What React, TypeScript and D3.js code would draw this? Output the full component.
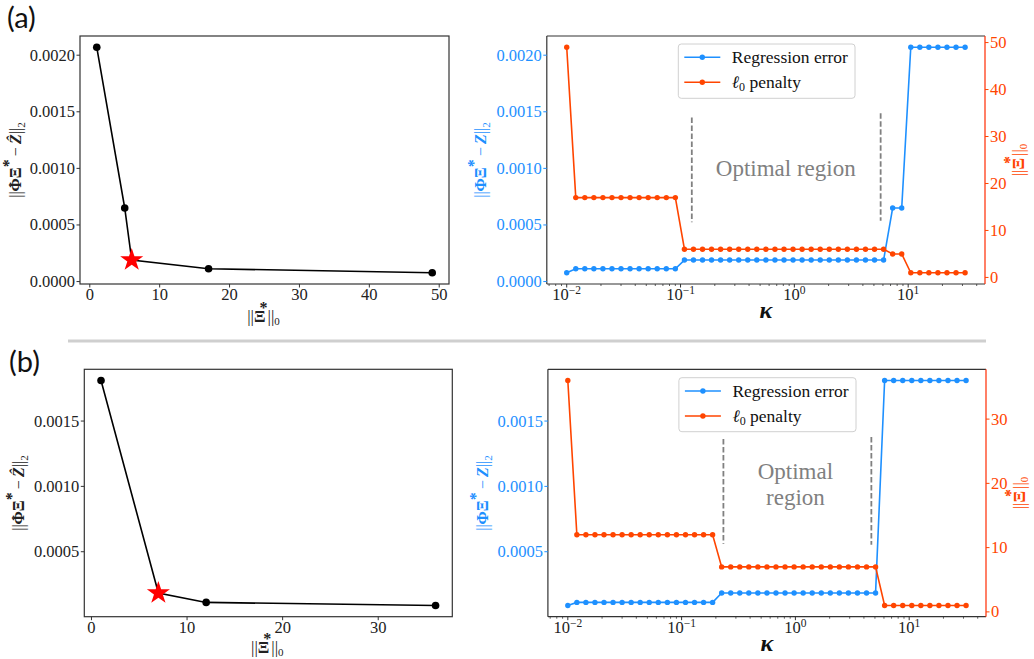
import React from "react";
import * as d3 from "d3";

// ---------------- DATA ----------------
const KAPPA = [0.01, 0.01201, 0.01442, 0.01732, 0.0208, 0.02498, 0.02999, 0.03602, 0.04325, 0.05194, 0.06237, 0.07499, 0.09005, 0.1082, 0.1299, 0.156, 0.1873, 0.2249, 0.2701, 0.3244, 0.3895, 0.4678, 0.5623, 0.6753, 0.8111, 0.9742, 1.17, 1.405, 1.688, 2.027, 2.434, 2.923, 3.511, 4.217, 5.064, 6.082, 7.304, 8.775, 10.54, 12.66, 15.2, 18.25, 21.92, 26.33, 31.62];

// panel (a)
const ERR_A = [0.000078,
  0.000113, 0.000113, 0.000113, 0.000113, 0.000113, 0.000113, 0.000113, 0.000113, 0.000113, 0.000113, 0.000113, 0.000113,
  0.00019, 0.00019, 0.00019, 0.00019, 0.00019, 0.00019, 0.00019, 0.00019, 0.00019, 0.00019, 0.00019, 0.00019,
  0.00019, 0.00019, 0.00019, 0.00019, 0.00019, 0.00019, 0.00019, 0.00019, 0.00019, 0.00019, 0.00019,
  0.00065, 0.00065,
  0.00207, 0.00207, 0.00207, 0.00207, 0.00207, 0.00207, 0.00207];
const L0_A = [49,
  17, 17, 17, 17, 17, 17, 17, 17, 17, 17, 17, 17,
  6, 6, 6, 6, 6, 6, 6, 6, 6, 6, 6, 6, 6, 6, 6, 6, 6, 6, 6, 6, 6, 6, 6,
  5, 5,
  1, 1, 1, 1, 1, 1, 1];
const TERMS_A = [1, 5, 6, 17, 49];
const PARETO_ERR_A = [0.00207, 0.00065, 0.00019, 0.000113, 0.000078];
const OPT_TERMS_A = [6];
const OPT_ERR_A = [0.00019];
const DASH_KAPPA_A = [0.1256, 5.73];
const DASH_TOP_A = [0.00145, 0.001486];
const DASH_BOTTOM_A = [0.000524, 0.000538];

// panel (b)
const ERR_B = [0.0000888,
  0.000112, 0.000112, 0.000112, 0.000112, 0.000112, 0.000112, 0.000112, 0.000112,
  0.000112, 0.000112, 0.000112, 0.000112, 0.000112, 0.000112, 0.000112, 0.000112,
  0.000184, 0.000184, 0.000184, 0.000184, 0.000184, 0.000184, 0.000184, 0.000184, 0.000184,
  0.000184, 0.000184, 0.000184, 0.000184, 0.000184, 0.000184, 0.000184, 0.000184, 0.000184,
  0.00181, 0.00181, 0.00181, 0.00181, 0.00181, 0.00181, 0.00181, 0.00181, 0.00181, 0.00181];
const L0_B = [36,
  12, 12, 12, 12, 12, 12, 12, 12, 12, 12, 12, 12, 12, 12, 12, 12,
  7, 7, 7, 7, 7, 7, 7, 7, 7, 7, 7, 7, 7, 7, 7, 7, 7, 7,
  1, 1, 1, 1, 1, 1, 1, 1, 1, 1];
const TERMS_B = [1, 7, 12, 36];
const PARETO_ERR_B = [0.00181, 0.000184, 0.000112, 0.0000888];
const OPT_TERMS_B = [7];
const OPT_ERR_B = [0.000184];
const DASH_KAPPA_B = [0.233, 4.65];
const DASH_TOP_B = [0.001363, 0.001378];
const DASH_BOTTOM_B = [0.000561, 0.000553];

// ticks
const X_TICKS_A = [0, 10, 20, 30, 40, 50];
const X_TICKS_B = [0, 10, 20, 30];
const Y_TICKS_A = [0, 0.0005, 0.001, 0.0015, 0.002];
const Y_TICKS_B = [0.0005, 0.001, 0.0015];
const R_TICKS_A = [0, 10, 20, 30, 40, 50];
const R_TICKS_B = [0, 10, 20, 30];
const LOG_TICKS = [0.01, 0.1, 1, 10];
const LOG_TICK_EXP = ["\u22122", "\u22121", "0", "1"];
const LEGEND_LABELS = ["Regression error", "penalty"];
const OPT_TEXT_A = ["Optimal region"];
const OPT_TEXT_B = ["Optimal", "region"];

// ---------------- STYLE ----------------
const FONT = "Liberation Serif";
const BLUE = "#1E90FF";
const ORANGE = "#FF4500";
const RED_SPINE = "#FF2A00";
const FRAME = "#333333";
const GRAY = "#808080";

function pad(lo: number, hi: number): [number, number] {
  const d = hi - lo;
  return [lo - 0.05 * d, hi + 0.05 * d];
}

function YLabelLeft({ x, y, color, hats }: { x: number; y: number; color: string; hats: boolean }) {
  return (
    <text transform={`translate(${x},${y}) rotate(-90)`} textAnchor="middle" fontFamily={FONT} fontSize={16} fill={color}>
      <tspan>||</tspan>
      <tspan fontWeight="bold">{"\u03A6"}</tspan>
      {hats ? <tspan fontSize={14} dx={-9} dy={-2}>{"\u02C6"}</tspan> : null}
      <tspan fontWeight="bold" dx={hats ? 4.3 : 0} dy={hats ? 2 : 0}>{"\u039E"}</tspan>
      <tspan fontWeight="bold" fontSize={16} dy={-7}>*</tspan>
      <tspan dy={7}>{"\u2009\u2212\u2009"}</tspan>
      <tspan fontWeight="bold" fontStyle="italic">{hats ? "Z\u0302" : "Z"}</tspan>
      <tspan>||</tspan>
      <tspan fontSize={11} dy={4}>2</tspan>
    </text>
  );
}

function XiLabel({ x, y, color, rotate }: { x: number; y: number; color: string; rotate?: boolean }) {
  return (
    <text transform={`translate(${x},${y})${rotate ? " rotate(-90)" : ""}`} textAnchor="middle" fontFamily={FONT} fontSize={17} fill={color}>
      <tspan>||</tspan>
      <tspan fontWeight="bold">{"\u039E"}</tspan>
      <tspan fontWeight="bold" fontSize={16} dy={-9} dx={-6}>*</tspan>
      <tspan dy={9}>||</tspan>
      <tspan fontSize={11} dy={3}>0</tspan>
    </text>
  );
}

function ParetoPanel({ box, terms, errs, optT, optE, xTicks, yTicks, yLabelX, xLabelY }: any) {
  const xs = d3.scaleLinear().domain(pad(d3.min(terms) as number, d3.max(terms) as number)).range([box.x0, box.x1]);
  const ys = d3.scaleLinear().domain(pad(d3.min(errs) as number, d3.max(errs) as number)).range([box.y1, box.y0]);
  const line = d3.line<number>().x((d) => xs(d)).y((_d, i) => ys(errs[i]));
  const star = d3.symbol().type(d3.symbolStar).size(165)();
  const fmt = d3.format(".4f");
  return (
    <g>
      <path d={line(terms) || ""} fill="none" stroke="#000" strokeWidth={1.6} />
      {terms.map((t: number, i: number) => (
        <circle key={i} cx={xs(t)} cy={ys(errs[i])} r={3.8} fill="#000" />
      ))}
      {optT.map((t: number, i: number) => (
        <path key={i} d={star || ""} transform={`translate(${xs(t)},${ys(optE[i])})`} fill="#FF0000" />
      ))}
      <rect x={box.x0} y={box.y0} width={box.x1 - box.x0} height={box.y1 - box.y0} fill="none" stroke={FRAME} strokeWidth={1.2} />
      {xTicks.map((t: number) => (
        <g key={t}>
          <line x1={xs(t)} x2={xs(t)} y1={box.y1} y2={box.y1 + 3.5} stroke={FRAME} strokeWidth={1} />
          <text x={xs(t)} y={box.y1 + 16} textAnchor="middle" fontFamily={FONT} fontSize={16.5} fill="#222">{t}</text>
        </g>
      ))}
      {yTicks.map((t: number) => (
        <g key={t}>
          <line x1={box.x0 - 3.5} x2={box.x0} y1={ys(t)} y2={ys(t)} stroke={FRAME} strokeWidth={1} />
          <text x={box.x0 - 5} y={ys(t) + 5.5} textAnchor="end" fontFamily={FONT} fontSize={16.5} fill="#222">{fmt(t)}</text>
        </g>
      ))}
      <YLabelLeft x={yLabelX} y={(box.y0 + box.y1) / 2} color="#222" hats={true} />
      <XiLabel x={(box.x0 + box.x1) / 2 - 1} y={xLabelY} color="#222" />
    </g>
  );
}

function KappaPanel({ box, errs, l0s, yTicks, rTicks, dashK, dashTop, dashBot, optText, optK, optE, optDy, legendBox, yLabelX, rLabelX, xLabelY }: any) {
  const lmin = Math.log10(d3.min(KAPPA) as number);
  const lmax = Math.log10(d3.max(KAPPA) as number);
  const lr = lmax - lmin;
  const xs = d3.scaleLog().domain([Math.pow(10, lmin - 0.05 * lr), Math.pow(10, lmax + 0.05 * lr)]).range([box.x0, box.x1]);
  const yl = d3.scaleLinear().domain(pad(d3.min(errs) as number, d3.max(errs) as number)).range([box.y1, box.y0]);
  const yr = d3.scaleLinear().domain(pad(d3.min(l0s) as number, d3.max(l0s) as number)).range([box.y1, box.y0]);
  const lineL = d3.line<number>().x((d) => xs(d)).y((_d, i) => yl(errs[i]));
  const lineR = d3.line<number>().x((d) => xs(d)).y((_d, i) => yr(l0s[i]));
  const dom = xs.domain();
  const minor: number[] = [];
  for (let k = -3; k <= 2; k++) for (let m = 2; m <= 9; m++) {
    const v = m * Math.pow(10, k);
    if (v >= dom[0] && v <= dom[1]) minor.push(v);
  }
  const fmt = d3.format(".4f");
  const lb = legendBox;
  return (
    <g>
      <path d={lineL(KAPPA) || ""} fill="none" stroke={BLUE} strokeWidth={1.6} />
      {KAPPA.map((k, i) => <circle key={"b" + i} cx={xs(k)} cy={yl(errs[i])} r={2.7} fill={BLUE} />)}
      <path d={lineR(KAPPA) || ""} fill="none" stroke={ORANGE} strokeWidth={1.6} />
      {KAPPA.map((k, i) => <circle key={"o" + i} cx={xs(k)} cy={yr(l0s[i])} r={2.7} fill={ORANGE} />)}
      {dashK.map((k: number, i: number) => (
        <line key={"d" + i} x1={xs(k)} x2={xs(k)} y1={yl(dashTop[i])} y2={yl(dashBot[i])} stroke={GRAY} strokeWidth={1.8} strokeDasharray="5.5,2.5" />
      ))}
      {optText.map((s: string, i: number) => (
        <text key={"t" + i} x={xs(optK)} y={yl(optE) + i * optDy} textAnchor="middle" fontFamily={FONT} fontSize={23} fill={GRAY}>{s}</text>
      ))}
      {/* frame */}
      <line x1={box.x0} x2={box.x1} y1={box.y0} y2={box.y0} stroke={FRAME} strokeWidth={1.2} />
      <line x1={box.x0} x2={box.x1} y1={box.y1} y2={box.y1} stroke={FRAME} strokeWidth={1.2} />
      <line x1={box.x0} x2={box.x0} y1={box.y0} y2={box.y1} stroke={FRAME} strokeWidth={1.2} />
      <line x1={box.x1} x2={box.x1} y1={box.y0} y2={box.y1} stroke={RED_SPINE} strokeWidth={1.2} />
      {/* x ticks */}
      {minor.map((v, i) => (
        <line key={"m" + i} x1={xs(v)} x2={xs(v)} y1={box.y1} y2={box.y1 + 2} stroke={FRAME} strokeWidth={0.8} />
      ))}
      {LOG_TICKS.map((v, i) => (
        <g key={"x" + i}>
          <line x1={xs(v)} x2={xs(v)} y1={box.y1} y2={box.y1 + 3.5} stroke={FRAME} strokeWidth={1} />
          <text x={xs(v)} y={box.y1 + 16} textAnchor="middle" fontFamily={FONT} fontSize={16.5} fill="#222">
            <tspan>10</tspan>
            <tspan fontSize={11.5} dy={-6}>{LOG_TICK_EXP[i]}</tspan>
          </text>
        </g>
      ))}
      {yTicks.map((t: number) => (
        <g key={"yl" + t}>
          <line x1={box.x0 - 3.5} x2={box.x0} y1={yl(t)} y2={yl(t)} stroke={BLUE} strokeWidth={1} />
          <text x={box.x0 - 5} y={yl(t) + 5.5} textAnchor="end" fontFamily={FONT} fontSize={16.5} fill={BLUE}>{fmt(t)}</text>
        </g>
      ))}
      {rTicks.map((t: number) => (
        <g key={"yr" + t}>
          <line x1={box.x1} x2={box.x1 + 3.5} y1={yr(t)} y2={yr(t)} stroke={ORANGE} strokeWidth={1} />
          <text x={box.x1 + 5} y={yr(t) + 5.5} textAnchor="start" fontFamily={FONT} fontSize={16.5} fill={ORANGE}>{t}</text>
        </g>
      ))}
      <YLabelLeft x={yLabelX} y={(box.y0 + box.y1) / 2} color={BLUE} hats={false} />
      <XiLabel x={rLabelX} y={(box.y0 + box.y1) / 2} color={ORANGE} rotate={true} />
      <text x={(box.x0 + box.x1) / 2} y={xLabelY} textAnchor="middle" fontFamily={FONT} fontSize={24} fontWeight="bold" fontStyle="italic" fill="#111">{"\u03BA"}</text>
      {/* legend */}
      <rect x={lb.x} y={lb.y} width={lb.w} height={lb.h} rx={3} fill="#fff" fillOpacity={0.85} stroke="#d0d0d0" strokeWidth={1} />
      {[BLUE, ORANGE].map((c, i) => {
        const cy = lb.y + 13.3 + i * 25;
        return (
          <g key={"lg" + i}>
            <line x1={lb.x + 6} x2={lb.x + 42} y1={cy} y2={cy} stroke={c} strokeWidth={1.6} />
            <circle cx={lb.x + 24} cy={cy} r={2.7} fill={c} />
            <text x={lb.x + 53.5} y={cy + 5.5} fontFamily={FONT} fontSize={17.5} fill="#111">
              {i === 0 ? LEGEND_LABELS[0] : (
                <>
                  <tspan fontStyle="italic">{"\u2113"}</tspan>
                  <tspan fontSize={12} dy={3}>0</tspan>
                  <tspan dy={-3}>{" " + LEGEND_LABELS[1]}</tspan>
                </>
              )}
            </text>
          </g>
        );
      })}
    </g>
  );
}

export default function App() {
  return (
    <svg width={1034} height={659} style={{ position: "absolute", left: 0, top: 0, background: "#fff" }}>
      <rect x={0} y={0} width={1034} height={659} fill="#fff" />
      {/* panel labels */}
      <text x={7} y={28} fontFamily="Lato" fontSize={29} fill="#111">(a)</text>
      <text x={9} y={372} fontFamily="Lato" fontSize={29} fill="#111">(b)</text>
      {/* separator */}
      <line x1={68} x2={986} y1={341} y2={341} stroke="#cfcfcf" strokeWidth={3} />

      <ParetoPanel box={{ x0: 80, x1: 449, y0: 36, y1: 284 }} terms={TERMS_A} errs={PARETO_ERR_A}
        optT={OPT_TERMS_A} optE={OPT_ERR_A} xTicks={X_TICKS_A} yTicks={Y_TICKS_A} yLabelX={21} xLabelY={322} />
      <KappaPanel box={{ x0: 546.8, x1: 985, y0: 36, y1: 284 }} errs={ERR_A} l0s={L0_A}
        yTicks={Y_TICKS_A} rTicks={R_TICKS_A} dashK={DASH_KAPPA_A} dashTop={DASH_TOP_A} dashBot={DASH_BOTTOM_A}
        optText={OPT_TEXT_A} optK={0.84} optE={0.00093} optDy={26.4}
        legendBox={{ x: 678.3, y: 44, w: 176.7, h: 54.3 }} yLabelX={486} rLabelX={1024} xLabelY={318} />

      <ParetoPanel box={{ x0: 84.3, x1: 452.3, y0: 369.3, y1: 616.7 }} terms={TERMS_B} errs={PARETO_ERR_B}
        optT={OPT_TERMS_B} optE={OPT_ERR_B} xTicks={X_TICKS_B} yTicks={Y_TICKS_B} yLabelX={24} xLabelY={653} />
      <KappaPanel box={{ x0: 547.9, x1: 986, y0: 369.3, y1: 616.7 }} errs={ERR_B} l0s={L0_B}
        yTicks={Y_TICKS_B} rTicks={R_TICKS_B} dashK={DASH_KAPPA_B} dashTop={DASH_TOP_B} dashBot={DASH_BOTTOM_B}
        optText={OPT_TEXT_B} optK={1.0} optE={0.001057} optDy={26.4}
        legendBox={{ x: 678.9, y: 377.7, w: 177.1, h: 54 }} yLabelX={488} rLabelX={1025} xLabelY={651} />
    </svg>
  );
}
